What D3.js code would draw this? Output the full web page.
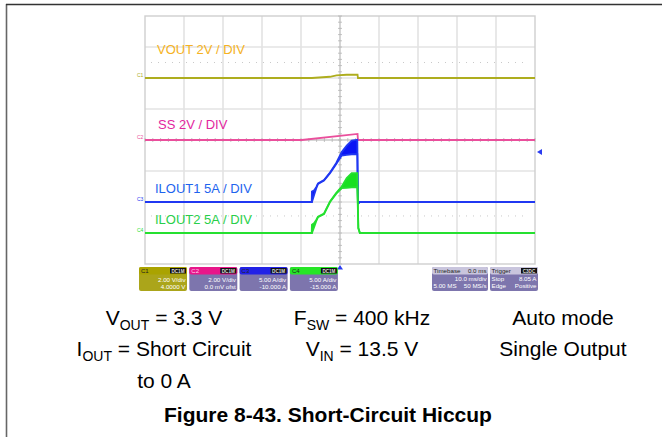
<!DOCTYPE html>
<html><head><meta charset="utf-8">
<script src="https://cdn.jsdelivr.net/npm/d3@7"></script>
<style>
body{margin:0;background:#fff}
svg{display:block}
text{font-family:Arial,"Liberation Sans",sans-serif}
</style>
</head><body>
<svg id="c" width="662" height="437"></svg>
<script>
// ---- scope settings ----
const channelNames   = ["C1", "C2", "C3", "C4"];
const channelLabels  = ["VOUT 2V / DIV", "SS 2V / DIV", "ILOUT1 5A / DIV", "ILOUT2 5A / DIV"];
const unitsPerDiv    = [2, 2, 5, 5];
const groundDiv      = [2, 0, -2, -3];
const scaleTexts     = ["2.00 V/div", "2.00 V/div", "5.00 A/div", "5.00 A/div"];
const offsetTexts    = ["4.0000 V", "0.0 mV ofst", "-10.000 A", "-15.000 A"];
const timeTicks      = d3.range(-50, 51, 10);   // ms, 10 ms/div
const divTicks       = d3.range(-4, 5, 1);
const referenceDivs  = [2.5, -2.45];
const triggerLevel   = 8.05;                    // A, on C3
const timebaseRows   = [["Timebase", "0.0 ms"], ["", "10.0 ms/div"], ["5.00 MS", "50 MS/s"]];
const triggerRows    = [["Trigger", ""], ["Stop", "8.05 A"], ["Edge", "Positive"]];

// ---- traces ----
// [time ms, value]
const voutTrace = [[-50,0],[-7.2,0],[-2.6,0.08],[-0.9,0.17],[1.7,0.21],[4.5,0.21],[4.6,0],[50,0]];
const ssTrace   = [[-50,0],[-9.8,0],[4.5,0.39],[4.6,0],[50,0]];
// [time ms, ripple low, ripple high] in A
const ilout1Trace = [[-50,0,0],[-7.25,0,0],[-7.2,0,1.7],[-6.6,1.2,1.9],[-6.1,2.2,2.4],[-5.64,2.9,3.0],
  [-4.1,3.45,3.55],[-2.56,4.65,4.75],[-1.0,6.1,6.25],[0.44,7.5,8.05],[1.72,7.6,9.1],[3.0,7.7,9.9],
  [4.44,7.7,10.05],[4.6,-0.25,-0.25],[5.1,0,0],[50,0,0]];
const ilout2Trace = [[-50,0,0],[-7.25,0,0],[-7.2,0,1.35],[-6.6,1.0,1.6],[-6.1,1.9,2.1],[-5.64,2.55,2.65],
  [-4.1,3.05,3.15],[-2.56,5.0,5.1],[-1.0,6.3,6.45],[0.44,7.25,7.5],[1.72,7.3,8.85],[3.0,7.35,9.66],
  [4.44,7.4,9.66],[4.7,0.8,0.8],[5.1,0,0],[50,0,0]];

// ---- captions ----
const captionRows = [
  [[["V",""],["OUT","sub"],[" = 3.3 V",""]], [["F",""],["SW","sub"],[" = 400 kHz",""]], [["Auto mode",""]]],
  [[["I",""],["OUT","sub"],[" = Short Circuit",""]], [["V",""],["IN","sub"],[" = 13.5 V",""]], [["Single Output",""]]],
  [[["to 0 A",""]], [], []]
];
const figureTitle = "Figure 8-43. Short-Circuit Hiccup";

// ---- drawing ----
const svg = d3.select("#c");
svg.append("rect").attr("width",662).attr("height",437).attr("fill","#fff");

// page frame
svg.append("line").attr("x1",6.5).attr("x2",6.5).attr("y1",4).attr("y2",437)
  .attr("stroke","#666").attr("stroke-width",1.6);
svg.append("line").attr("x1",6).attr("x2",662).attr("y1",4.5).attr("y2",4.5)
  .attr("stroke","#333").attr("stroke-width",1.6);

const L = 145, R = 535, T = 16, B = 264;
const x = d3.scaleLinear().domain([-50, 50]).range([L, R]);
const yDiv = d3.scaleLinear().domain([-4, 4]).range([B, T]);
const yCh = i => d3.scaleLinear()
  .domain([(-4 - groundDiv[i]) * unitsPerDiv[i], (4 - groundDiv[i]) * unitsPerDiv[i]])
  .range([B, T]);
const colors = {
  trace: ["#aead1e", "#ea4f9c", "#2038f2", "#25e030"],
  fill:  ["#aead1e", "#ea4f9c", "#0a14f5", "#18e020"],
  label: ["#f5b223", "#e2269e", "#1e64ee", "#29cf4a"],
  head:  ["#aaa300", "#e8168a", "#2222e6", "#26e626"]
};

// grid
const grid = svg.append("g");
grid.selectAll(".gv").data(timeTicks.slice(1, -1)).join("line")
  .attr("x1", d => x(d)).attr("x2", d => x(d)).attr("y1", T).attr("y2", B)
  .attr("stroke", "#e3e3e3").attr("stroke-width", 1.6);
grid.selectAll(".gh").data(divTicks.slice(1, -1)).join("line")
  .attr("x1", L).attr("x2", R).attr("y1", d => yDiv(d)).attr("y2", d => yDiv(d))
  .attr("stroke", "#e3e3e3").attr("stroke-width", 1.6);
grid.selectAll(".gr").data(referenceDivs).join("line")
  .attr("x1", L + 6).attr("x2", R - 6).attr("y1", d => yDiv(d)).attr("y2", d => yDiv(d))
  .attr("stroke", "#c9c9c9").attr("stroke-width", 1).attr("stroke-dasharray", "1,6");
grid.append("rect").attr("x", L).attr("y", T).attr("width", R - L).attr("height", B - T)
  .attr("fill", "none").attr("stroke", "#cfcfcf").attr("stroke-width", 1.4);

// centre axes with minor ticks
const cx = x(0), cy = yDiv(0);
grid.append("line").attr("x1", cx).attr("x2", cx).attr("y1", T).attr("y2", B)
  .attr("stroke", "#c2c2c2").attr("stroke-width", 1);
grid.append("line").attr("x1", L).attr("x2", R).attr("y1", cy).attr("y2", cy)
  .attr("stroke", "#c2c2c2").attr("stroke-width", 1);
grid.selectAll(".tv").data(d3.range(-4, 4.01, 0.2)).join("line")
  .attr("x1", cx - 2).attr("x2", cx + 2).attr("y1", d => yDiv(d)).attr("y2", d => yDiv(d))
  .attr("stroke", "#b5b5b5").attr("stroke-width", 0.8);
grid.selectAll(".th").data(d3.range(-50, 50.01, 2)).join("line")
  .attr("x1", d => x(d)).attr("x2", d => x(d)).attr("y1", cy - 2).attr("y2", cy + 2)
  .attr("stroke", "#b5b5b5").attr("stroke-width", 0.8);

// channel labels inside the plot
const labelPos = [[157, 54], [158, 129], [155, 193], [155, 224]];
channelLabels.forEach((t, i) => {
  svg.append("text").attr("x", labelPos[i][0]).attr("y", labelPos[i][1])
    .attr("font-size", 13).attr("fill", colors.label[i]).text(t);
});

// ground markers
channelNames.forEach((n, i) => {
  svg.append("text").attr("x", 137).attr("y", yCh(i)(0) - 1).attr("font-size", 5)
    .attr("fill", colors.trace[i]).text(n);
});

// voltage traces
const traces = svg.append("g");
[voutTrace, ssTrace].forEach((tr, i) => {
  const y = yCh(i);
  traces.append("path").datum(tr)
    .attr("d", d3.line().x(d => x(d[0])).y(d => y(d[1])))
    .attr("fill", "none").attr("stroke", colors.trace[i]).attr("stroke-width", 1.8);
});

// current traces with switching ripple band
[ilout1Trace, ilout2Trace].forEach((tr, k) => {
  const i = k + 2, y = yCh(i);
  traces.append("path").datum(tr)
    .attr("d", d3.area().x(d => x(d[0])).y0(d => y(d[1])).y1(d => y(d[2])))
    .attr("fill", colors.fill[i]);
  [1, 2].forEach(j => traces.append("path").datum(tr)
    .attr("d", d3.line().x(d => x(d[0])).y(d => y(d[j])))
    .attr("fill", "none").attr("stroke", colors.trace[i]).attr("stroke-width", 1.8));
});

// trigger markers
const trigY = yCh(2)(triggerLevel);
svg.append("path").attr("d", `M${R + 2},${trigY} l5,-3 l0,6 z`).attr("fill", "#2a3cf0");
svg.append("path").attr("d", `M${cx},${B + 1} l-3,4.5 l6,0 z`).attr("fill", "#2a3cf0");

// channel descriptor boxes
const bw = 48, bh = 24, by = 267;
channelNames.forEach((n, i) => {
  const bx = 139 + i * 50.3;
  const g = svg.append("g").attr("transform", `translate(${bx},${by})`);
  g.append("rect").attr("width", bw).attr("height", bh).attr("rx", 2)
    .attr("fill", i === 0 ? "#aba51a" : "#7d75ad");
  g.append("rect").attr("width", bw).attr("height", 7.5).attr("rx", 2).attr("fill", colors.head[i]);
  g.append("text").attr("x", 2).attr("y", 6).attr("font-size", 6)
    .attr("fill", i === 1 ? "#ffd0ea" : "#222").text(n);
  g.append("rect").attr("x", bw - 17).attr("y", 1).attr("width", 16).attr("height", 5.5).attr("fill", "#111");
  g.append("text").attr("x", bw - 9).attr("y", 5.6).attr("font-size", 4.6).attr("font-weight", "bold")
    .attr("text-anchor", "middle").attr("fill", "#ddd").text("DC1M");
  g.append("text").attr("x", bw - 1.5).attr("y", 14.5).attr("font-size", 6.2)
    .attr("text-anchor", "end").attr("fill", "#fff").text(scaleTexts[i]);
  g.append("text").attr("x", bw - 1.5).attr("y", 21.5).attr("font-size", 6.2)
    .attr("text-anchor", "end").attr("fill", "#fff").text(offsetTexts[i]);
});

// timebase and trigger boxes
[[432, 56, timebaseRows], [490, 48, triggerRows]].forEach(([bx, w, rows], k) => {
  const g = svg.append("g").attr("transform", `translate(${bx},${by})`);
  g.append("rect").attr("width", w).attr("height", bh).attr("rx", 2).attr("fill", "#7d75ad");
  g.append("rect").attr("width", w).attr("height", 7.5).attr("rx", 2).attr("fill", "#c9c5dd");
  rows.forEach((r, j) => {
    const yy = 6 + j * 7.6;
    const fill = j === 0 ? "#222" : "#fff";
    g.append("text").attr("x", 1.5).attr("y", yy).attr("font-size", 6.2).attr("fill", fill).text(r[0]);
    g.append("text").attr("x", w - 1.5).attr("y", yy).attr("font-size", 6.2)
      .attr("text-anchor", "end").attr("fill", fill).text(r[1]);
  });
  if (k === 1) {
    g.append("rect").attr("x", w - 17).attr("y", 1).attr("width", 16).attr("height", 5.5).attr("fill", "#111");
    g.append("text").attr("x", w - 9).attr("y", 5.6).attr("font-size", 4.6).attr("font-weight", "bold")
      .attr("text-anchor", "middle").attr("fill", "#ddd").text("C3DC");
  }
});

// caption block
const colX = [164, 362, 563], rowY = [325, 356, 388];
captionRows.forEach((row, r) => row.forEach((parts, c) => {
  if (!parts.length) return;
  const t = svg.append("text").attr("x", colX[c]).attr("y", rowY[r])
    .attr("text-anchor", "middle").attr("font-size", 21).attr("fill", "#000");
  parts.forEach(([s, kind], idx) => {
    const ts = t.append("tspan").text(s);
    if (kind === "sub") ts.attr("font-size", 14).attr("dy", 5);
    else if (idx > 0 && parts[idx - 1][1] === "sub") ts.attr("dy", -5);
  });
}));
svg.append("text").attr("x", 328).attr("y", 422).attr("text-anchor", "middle")
  .attr("font-size", 21).attr("font-weight", "bold").attr("fill", "#000").text(figureTitle);
</script>
</body></html>
